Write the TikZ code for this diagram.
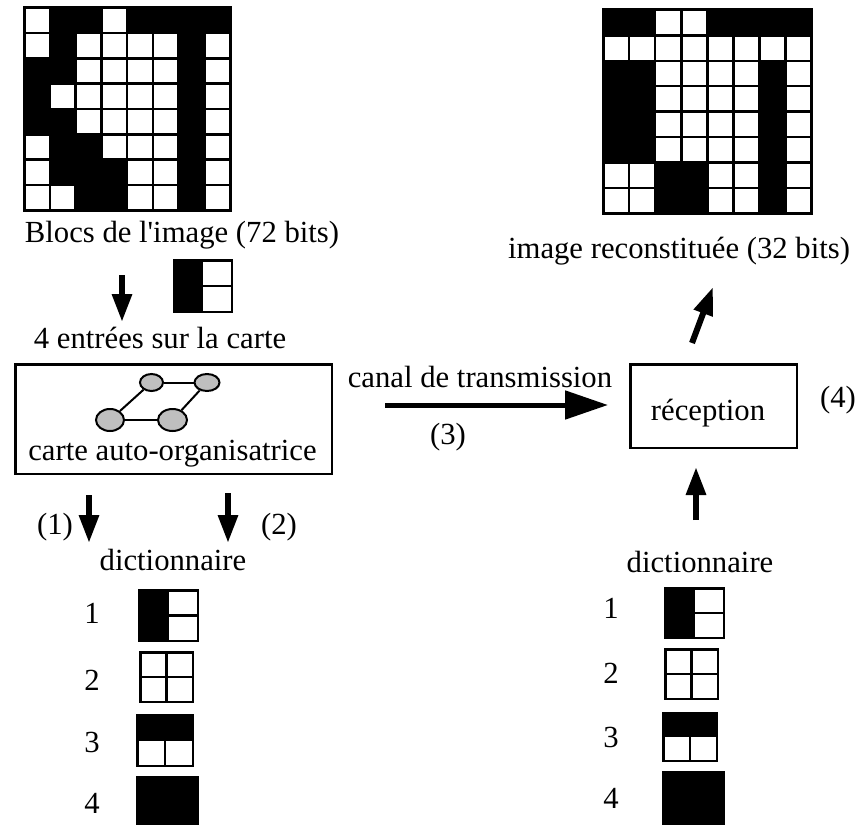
\documentclass[tikz,border=0pt]{standalone}
\usepackage{fontspec}
\setmainfont{Liberation Serif}
\usetikzlibrary{arrows.meta,shapes.geometric}
\tikzset{
  txt/.style     = {font=\fontsize{30.7}{36}\selectfont, inner sep=0pt, anchor=base},
  boite/.style   = {draw, line width=2.5pt, inner sep=0pt},
  bloc/.style    = {draw, line width=2.5pt, inner sep=0pt},
  neurone/.style = {ellipse, draw, fill=gray!50, line width=2pt, inner sep=0pt},
  lien/.style    = {line width=2pt},
  fleche/.style  = {line width=6pt, -{Triangle[length=28pt,width=19pt]}},
  canal/.style   = {line width=5pt, -{Triangle[length=43pt,width=28pt]}},
}
% image 8x8 : x, y, largeur case, hauteur case, lignes
\newcommand{\grille}[5]{%
  \begin{scope}[shift={(#1,#2)}, x=#3pt, y=-#4pt]
    \foreach \ligne [count=\r] in {#5} {
      \foreach \v [count=\c] in \ligne {
        \ifnum\v=1 \fill (\c-1,\r-1) rectangle (\c,\r); \fi
      }
    }
    \foreach \i in {0,...,8} {
      \draw[line width=2.5pt] (\i,0) -- (\i,8);
      \draw[line width=2.5pt] (0,\i) -- (8,\i);
    }
    \draw[line width=3pt] (0,0) rectangle (8,8);
  \end{scope}}

\begin{document}
\begin{tikzpicture}[x=1pt, y=-1pt]
  \useasboundingbox (0,0) rectangle (858,824);

  % images
  \grille{24}{8}{25.75}{25.25}{{0,1,1,0,1,1,1,1},{0,1,0,0,0,0,1,0},{1,1,0,0,0,0,1,0},{1,0,0,0,0,0,1,0},{1,1,0,0,0,0,1,0},{0,1,1,0,0,0,1,0},{0,1,1,1,0,0,1,0},{0,0,1,1,0,0,1,0}}
  \grille{603}{10}{26.1}{25.4}{{1,1,0,0,1,1,1,1},{0,0,0,0,0,0,0,0},{1,1,0,0,0,0,1,0},{1,1,0,0,0,0,1,0},{1,1,0,0,0,0,1,0},{1,1,0,0,0,0,1,0},{0,0,1,1,0,0,1,0},{0,0,1,1,0,0,1,0}}

  \node[txt] (blocs) at (182,242) {Blocs de l\textquotesingle image (72 bits)};
  \node[txt] (recon) at (679,258) {image reconstituée (32 bits)};

  % entree
  \node[bloc, minimum width=57.5pt, minimum height=51.5pt] (e1) at (203,286) {};
  \fill (e1.north west) rectangle (e1.south);
  \draw[line width=2.5pt] (e1.center) -- (e1.east);
  \coordinate (fa1) at (122,275);
  \coordinate (fa2) at (122,322);
  \draw[fleche] (fa1) -- (fa2);
  \node[txt] (entrees) at (160,348) {4 entrées sur la carte};

  % carte
  \node[boite, minimum width=316.5pt, minimum height=109.5pt] (som) at (173.5,419) {};
  \node[neurone, minimum width=23pt, minimum height=17pt] (n1) at (151.5,382.5) {};
  \node[neurone, minimum width=25pt, minimum height=17pt] (n2) at (207,382.5) {};
  \node[neurone, minimum width=28pt, minimum height=22pt] (n3) at (110,420) {};
  \node[neurone, minimum width=29pt, minimum height=22pt] (n4) at (172.5,420) {};
  \draw[lien] (n1) -- (n2);
  \draw[lien] (n2) -- (n4);
  \draw[lien] (n4) -- (n3);
  \draw[lien] (n3) -- (n1);
  \node[txt] (carte) at (172.5,460) {carte auto-organisatrice};

  % transmission
  \coordinate (c1) at (385,405);
  \coordinate (c2) at (608,405);
  \draw[canal] (c1) -- (c2);
  \node[txt] (canal) at (480,387) {canal de transmission};
  \node[txt] (t3) at (448,444) {(3)};
  \node[boite, minimum width=166.5pt, minimum height=83.5pt] (recep) at (713.5,406) {};
  \node[txt] (trecep) at (708,420) {réception};
  \node[txt] (t4) at (838,407) {(4)};
  \coordinate (d1) at (692,343);
  \coordinate (d2) at (713,287);
  \draw[fleche] (d1) -- (d2);
  \coordinate (u1) at (696,520);
  \coordinate (u2) at (696,467);
  \draw[fleche] (u1) -- (u2);

  % vers le dictionnaire
  \coordinate (p1) at (89,495);
  \coordinate (p2) at (89,543);
  \draw[fleche] (p1) -- (p2);
  \coordinate (q1) at (228,493);
  \coordinate (q2) at (228,543);
  \draw[fleche] (q1) -- (q2);
  \node[txt] (t1) at (55,534) {(1)};
  \node[txt] (t2) at (279,534) {(2)};

  % dictionnaire gauche
  \node[txt] (dicog) at (173,570) {dictionnaire};
  \node[txt] (ng1) at (92,623) {1};
  \node[txt] (ng2) at (92,690) {2};
  \node[txt] (ng3) at (92,752) {3};
  \node[txt] (ng4) at (92,813) {4};
  \node[bloc, minimum width=58.5pt, minimum height=50.5pt] (g1) at (168.5,615.5) {};
  \fill (g1.north west) rectangle (g1.south);
  \draw[line width=2.5pt] (g1.center) -- (g1.east);
  \node[bloc, minimum width=52.5pt, minimum height=49.5pt] (g2) at (166.5,677) {};
  \draw[line width=2.5pt] (g2.north) -- (g2.south) (g2.west) -- (g2.east);
  \node[bloc, minimum width=55.5pt, minimum height=50.5pt] (g3) at (165,740.5) {};
  \fill (g3.north west) rectangle (g3.east);
  \draw[line width=2.5pt] (g3.center) -- (g3.south);
  \node[bloc, fill=black, minimum width=60.5pt, minimum height=47.5pt] (g4) at (167.5,801) {};

  % dictionnaire droit
  \node[txt] (dicod) at (700,572) {dictionnaire};
  \node[txt] (nd1) at (611,618) {1};
  \node[txt] (nd2) at (611,683) {2};
  \node[txt] (nd3) at (611,747) {3};
  \node[txt] (nd4) at (611,808) {4};
  \node[bloc, minimum width=58.5pt, minimum height=49.5pt] (h1) at (694.5,613) {};
  \fill (h1.north west) rectangle (h1.south);
  \draw[line width=2.5pt] (h1.center) -- (h1.east);
  \node[bloc, minimum width=52.5pt, minimum height=49.5pt] (h2) at (691.5,674) {};
  \draw[line width=2.5pt] (h2.north) -- (h2.south) (h2.west) -- (h2.east);
  \node[bloc, minimum width=53.5pt, minimum height=47.5pt] (h3) at (690,737) {};
  \fill (h3.north west) rectangle (h3.east);
  \draw[line width=2.5pt] (h3.center) -- (h3.south);
  \node[bloc, fill=black, minimum width=60.5pt, minimum height=52.5pt] (h4) at (693.5,798.5) {};
\end{tikzpicture}
\end{document}
